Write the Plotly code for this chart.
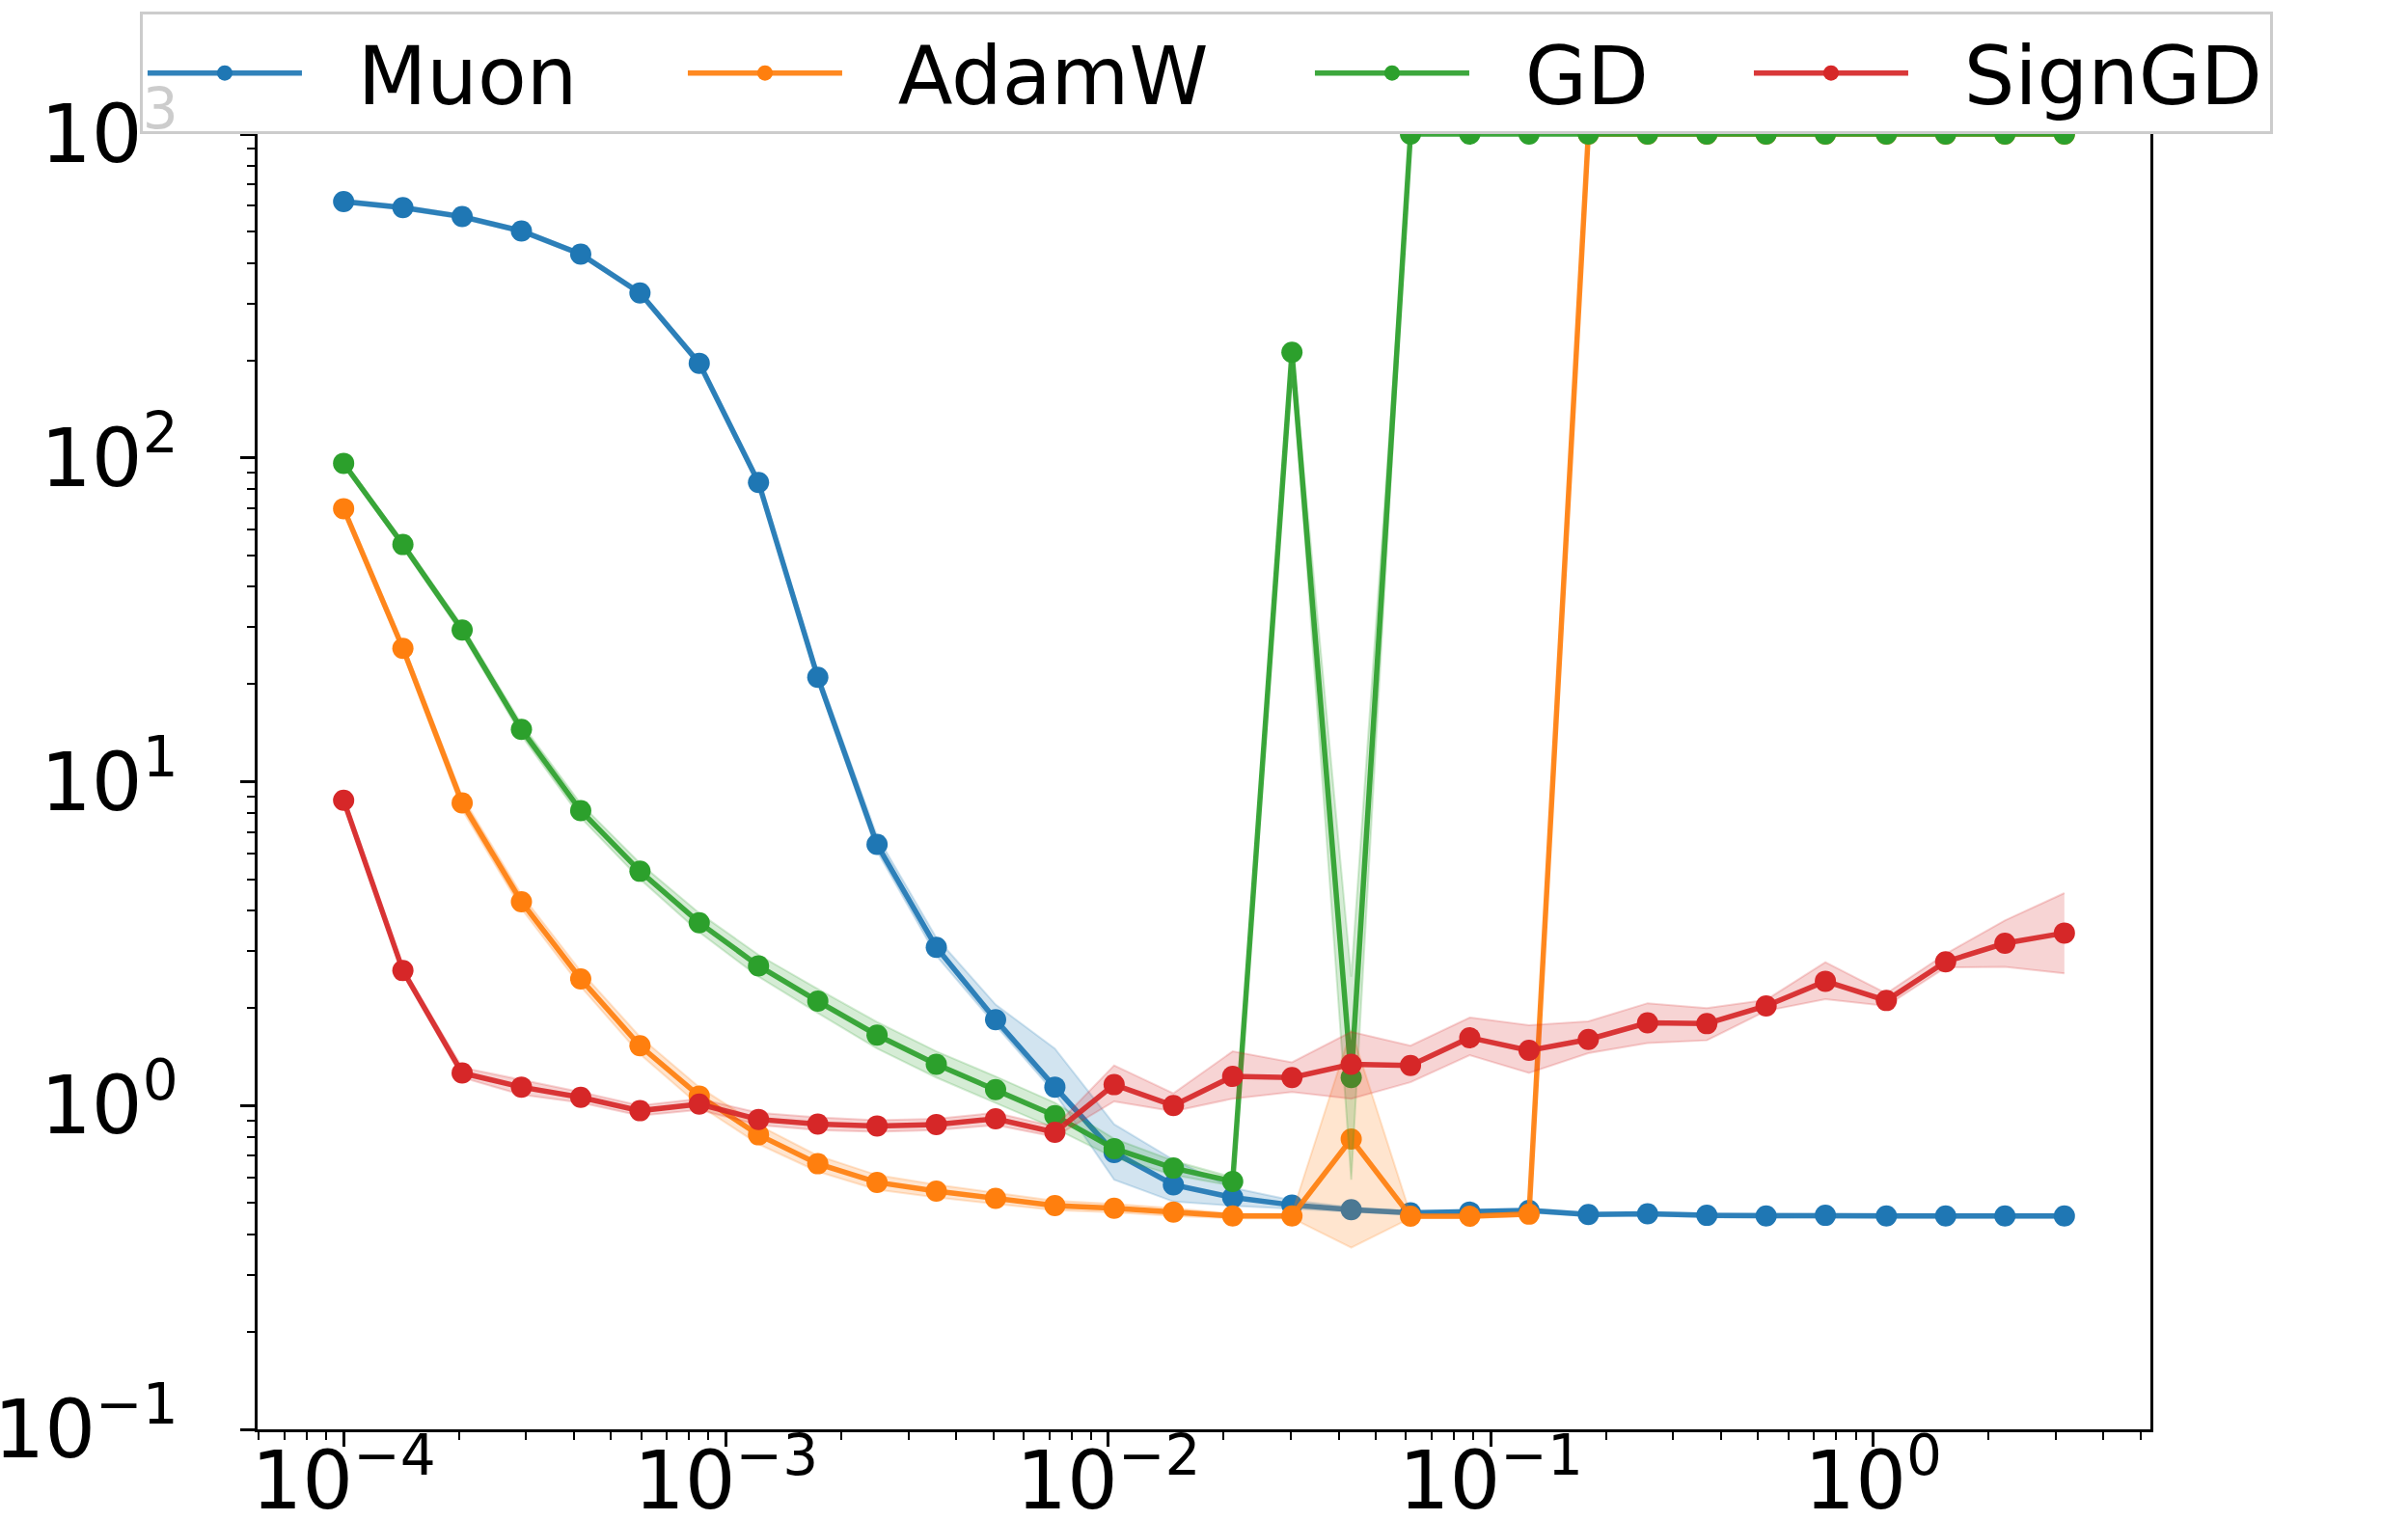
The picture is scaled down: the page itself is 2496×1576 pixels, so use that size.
import plotly.graph_objects as go

# learning rates (x)
lr = [1.0e-4, 1.4289e-4, 2.0417e-4, 2.9174e-4, 4.1687e-4, 5.9566e-4, 8.5113e-4,
      1.2162e-3, 1.7378e-3, 2.4831e-3, 3.5481e-3, 5.0699e-3, 7.2444e-3,
      1.0351e-2, 1.4791e-2, 2.1135e-2, 3.0200e-2, 4.3152e-2, 6.1660e-2,
      8.8105e-2, 0.12589, 0.17989, 0.25704, 0.36728, 0.52481, 0.74989,
      1.0826, 1.5470, 2.2105, 3.1623]

muon = [619, 593, 556, 502, 426, 323, 196, 84, 21, 6.4, 3.08, 1.84, 1.14, 0.716,
        0.569, 0.520, 0.493, 0.477, 0.466, 0.469, 0.474, 0.461, 0.463, 0.458,
        0.456, 0.458, 0.456, 0.456, 0.456, 0.456]
muon_lo = [610, 585, 548, 495, 420, 318, 192, 82, 20.3, 6.1, 2.9, 1.77, 1.09, 0.59,
           0.505, 0.49, 0.48, 0.47, 0.46, 0.462, 0.467, 0.455, 0.457, 0.452,
           0.45, 0.452, 0.45, 0.45, 0.45, 0.45]
muon_hi = [628, 601, 564, 509, 432, 328, 200, 86, 21.8, 6.8, 3.3, 2.05, 1.5, 0.875,
           0.68, 0.557, 0.51, 0.485, 0.472, 0.476, 0.481, 0.467, 0.469, 0.464,
           0.462, 0.464, 0.462, 0.462, 0.462, 0.462]

adamw = [69.7, 25.8, 8.60, 4.26, 2.46, 1.53, 1.07, 0.812, 0.661, 0.579, 0.544,
         0.517, 0.491, 0.482, 0.469, 0.456, 0.456, 0.788, 0.455, 0.455, 0.462,
         1000, 1000, 1000, 1000, 1000, 1000, 1000, 1000, 1000]
adamw_lo = [68.0, 25.0, 8.2, 4.05, 2.33, 1.44, 1.0, 0.76, 0.625, 0.55, 0.52,
            0.498, 0.475, 0.468, 0.456, 0.448, 0.449, 0.364, 0.449, 0.449, 0.456,
            1000, 1000, 1000, 1000, 1000, 1000, 1000, 1000, 1000]
adamw_hi = [71.4, 26.6, 9.0, 4.48, 2.6, 1.63, 1.14, 0.87, 0.70, 0.61, 0.57,
            0.537, 0.508, 0.497, 0.482, 0.464, 0.463, 1.71, 0.461, 0.461, 0.468,
            1000, 1000, 1000, 1000, 1000, 1000, 1000, 1000, 1000]

gd = [96.2, 54.0, 29.4, 14.5, 8.14, 5.29, 3.67, 2.70, 2.10, 1.65, 1.34, 1.12,
      0.931, 0.736, 0.641, 0.583, 212, 1.22, 1000, 1000, 1000, 1000, 1000,
      1000, 1000, 1000, 1000, 1000, 1000, 1000]
gd_lo = [94.5, 52.8, 28.5, 13.9, 7.75, 5.0, 3.43, 2.5, 1.93, 1.5, 1.22, 1.02,
         0.85, 0.69, 0.61, 0.565, 200, 0.59, 1000, 1000, 1000, 1000, 1000,
         1000, 1000, 1000, 1000, 1000, 1000, 1000]
gd_hi = [97.9, 55.2, 30.3, 15.1, 8.55, 5.6, 3.93, 2.92, 2.29, 1.81, 1.47, 1.23,
         1.02, 0.79, 0.675, 0.60, 225, 2.5, 1000, 1000, 1000, 1000, 1000,
         1000, 1000, 1000, 1000, 1000, 1000, 1000]

signgd = [8.76, 2.61, 1.26, 1.14, 1.06, 0.964, 1.01, 0.906, 0.876, 0.865, 0.874,
          0.910, 0.827, 1.16, 1.00, 1.23, 1.22, 1.34, 1.33, 1.62, 1.48, 1.60,
          1.80, 1.79, 2.03, 2.42, 2.11, 2.78, 3.17, 3.41]
signgd_lo = [8.5, 2.55, 1.22, 1.08, 1.02, 0.93, 0.97, 0.87, 0.84, 0.83, 0.84,
             0.87, 0.80, 1.03, 0.96, 1.05, 1.10, 1.05, 1.18, 1.43, 1.26, 1.45,
             1.56, 1.59, 1.96, 2.13, 2.03, 2.67, 2.68, 2.56]
signgd_hi = [9.0, 2.67, 1.31, 1.2, 1.1, 1.0, 1.05, 0.95, 0.92, 0.90, 0.91,
             0.95, 0.86, 1.33, 1.09, 1.47, 1.36, 1.69, 1.53, 1.87, 1.77, 1.82,
             2.07, 2.00, 2.12, 2.77, 2.22, 2.94, 3.73, 4.53]

names = ["Muon", "AdamW", "GD", "SignGD"]
colors = [(31, 119, 180), (255, 127, 14), (44, 160, 44), (214, 39, 40)]
series = [(muon, muon_lo, muon_hi), (adamw, adamw_lo, adamw_hi),
          (gd, gd_lo, gd_hi), (signgd, signgd_lo, signgd_hi)]
legend_widths = [385, 475, 280, 365]

x_ticks = [1e-4, 1e-3, 1e-2, 1e-1, 1e0]
x_ticktext = ["10<sup>−4</sup>", "10<sup>−3</sup>", "10<sup>−2</sup>",
              "10<sup>−1</sup>", "10<sup>0</sup>"]
y_ticks = [1e-1, 1e0, 1e1, 1e2, 1e3]
y_ticktext = ["10<sup>−1</sup>", "10<sup>0</sup>", "10<sup>1</sup>",
              "10<sup>2</sup>", "10<sup>3</sup>"]

def minor_vals(e0, e1):
    out = []
    for e in range(e0, e1 + 1):
        for k in range(2, 10):
            out.append(k * 10.0 ** e)
    return out

fig = go.Figure()
for name, c, (m, lo, hi), lw in zip(names, colors, series, legend_widths):
    rgba_band = "rgba(%d,%d,%d,0.2)" % c
    fig.add_trace(go.Scatter(x=lr, y=lo, mode="lines",
                             line=dict(color=rgba_band, width=2),
                             showlegend=False, hoverinfo="skip"))
    fig.add_trace(go.Scatter(x=lr, y=hi, mode="lines", fill="tonexty",
                             fillcolor=rgba_band,
                             line=dict(color=rgba_band, width=2),
                             showlegend=False, hoverinfo="skip"))
    fig.add_trace(go.Scatter(x=lr, y=m, mode="lines+markers",
                             name="\u00a0\u00a0" + name, legendwidth=lw,
                             line=dict(color="rgba(%d,%d,%d,0.92)" % c, width=5.5),
                             marker=dict(color="rgb(%d,%d,%d)" % c, size=22,
                                         line=dict(width=0))))

axis_common = dict(type="log", showline=True, linecolor="black", linewidth=2.5,
                   mirror=True, ticks="outside", ticklen=15, tickwidth=2.5,
                   tickcolor="black", showgrid=False, zeroline=False,
                   automargin=False,
                   tickfont=dict(family="DejaVu Sans", size=83, color="black"))

fig.update_xaxes(range=[-4.225, 0.725], tickvals=x_ticks, ticktext=x_ticktext,
                 minor=dict(ticks="outside", ticklen=8, tickwidth=2,
                            tickcolor="black", tickvals=minor_vals(-5, 0),
                            showgrid=False),
                 ticklabelstandoff=-35, **axis_common)
fig.update_yaxes(range=[-1, 3], tickvals=y_ticks, ticktext=y_ticktext,
                 minor=dict(ticks="outside", ticklen=8, tickwidth=2,
                            tickcolor="black", tickvals=minor_vals(-1, 2),
                            showgrid=False),
                 ticklabelstandoff=48, **axis_common)

fig.update_layout(
    width=2496, height=1576,
    margin=dict(l=267, r=267, t=137, b=94, pad=0),
    paper_bgcolor="white", plot_bgcolor="white",
    font=dict(family="DejaVu Sans", size=83, color="black"),
    showlegend=True,
    legend=dict(orientation="h", xref="paper", yref="paper",
                x=-0.0622, xanchor="left",
                y=1.0944, yanchor="top",
                traceorder="normal",
                bgcolor="rgba(255,255,255,0.8)", bordercolor="#cccccc",
                borderwidth=3, font=dict(family="DejaVu Sans", size=83),
                itemwidth=160, tracegroupgap=0),
)

fig.write_html("out.html")
